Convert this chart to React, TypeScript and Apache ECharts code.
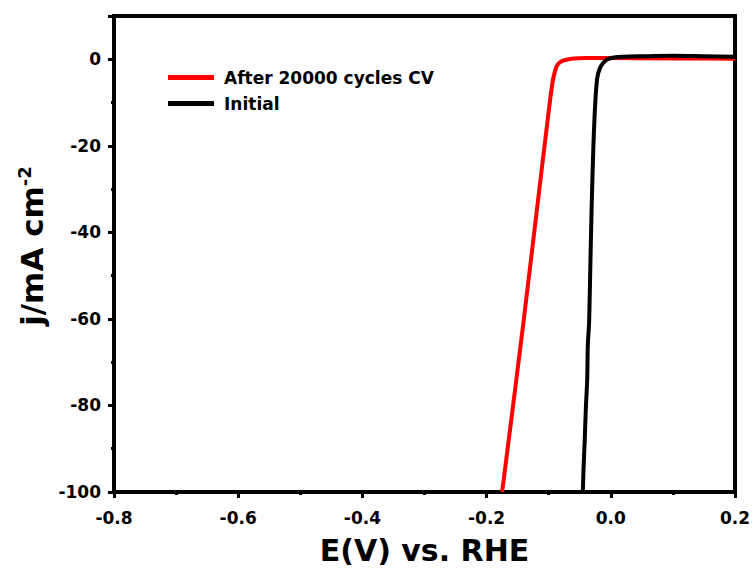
import React, { useEffect, useRef } from "react";
import * as echarts from "echarts";

const initialE = [0.2, 0.15, 0.1, 0.05, 0.02, 0.005, -0.005, -0.012, -0.018, -0.022, -0.025, -0.028, -0.031, -0.034, -0.035, -0.037, -0.038, -0.040, -0.042, -0.044, -0.045];
const initialJ = [0.6, 0.7, 0.8, 0.7, 0.6, 0.4, 0.0, -0.8, -2.2, -4.5, -10, -20, -35, -55, -61, -66, -74, -80, -88, -95, -100];

const afterE = [0.2, 0.1, 0.0, -0.04, -0.06, -0.072, -0.08, -0.086, -0.09, -0.094, -0.1, -0.12, -0.14, -0.16, -0.175];
const afterJ = [0.1, 0.2, 0.3, 0.3, 0.2, -0.1, -0.5, -1.3, -2.8, -5.5, -12, -36, -60, -83, -100];

const xTicks = [-0.8, 0.2, 0.2];
const yTicks = [-100, 10, 20];

const labels = {
  after: "After 20000 cycles CV",
  initial: "Initial",
};

export default function App() {
  const ref = useRef<HTMLDivElement>(null);
  useEffect(() => {
    const chart = echarts.init(ref.current!, null, { renderer: "svg" });
    const font = "'DejaVu Sans', sans-serif";
    const mk = (xs: number[], ys: number[]) => xs.map((x, i) => [x, ys[i]]);
    chart.setOption({
      animation: false,
      backgroundColor: "#ffffff",
      textStyle: { fontFamily: font },
      grid: {
        left: 114,
        right: 21,
        top: 16,
        bottom: 84,
        show: true,
        borderColor: "#000",
        borderWidth: 4,
        backgroundColor: "transparent",
      },
      legend: {
        left: 163,
        top: 64,
        orient: "vertical",
        itemWidth: 46,
        itemHeight: 5,
        itemGap: 9,
        icon: "rect",
        textStyle: { fontSize: 17, fontWeight: "bold", color: "#000", fontFamily: font, padding: [0, 0, 0, 5] },
        data: [labels.after, labels.initial],
      },
      xAxis: {
        type: "value",
        min: xTicks[0],
        max: xTicks[1],
        interval: xTicks[2],
        name: "E(V) vs. RHE",
        nameLocation: "middle",
        nameGap: 43,
        nameTextStyle: { fontSize: 30, fontWeight: "bold", color: "#000", fontFamily: font },
        axisLine: { show: true, onZero: false, lineStyle: { color: "#000", width: 4 } },
        axisTick: { show: true, inside: false, length: 6, lineStyle: { color: "#000", width: 3 } },
        minorTick: { show: true, splitNumber: 2, length: 3, lineStyle: { color: "#000", width: 3 } },
        axisLabel: {
          fontSize: 17,
          fontWeight: "bold",
          color: "#000",
          margin: 17,
          fontFamily: font,
          formatter: (v: number) => v.toFixed(1),
        },
        splitLine: { show: false },
      },
      yAxis: {
        type: "value",
        min: yTicks[0],
        max: yTicks[1],
        interval: yTicks[2],
        name: "{b|j/mA cm}{s|-2}",
        nameLocation: "middle",
        nameGap: 64,
        nameTextStyle: {
          fontSize: 31,
          fontWeight: "bold",
          color: "#000",
          fontFamily: font,
          padding: [0, 0, 0, 16],
          rich: {
            b: { fontSize: 31, fontWeight: "bold", color: "#000", fontFamily: font },
            s: { fontSize: 18, fontWeight: "bold", color: "#000", fontFamily: font, padding: [0, 0, 16, 0] },
          },
        },
        axisLine: { show: true, onZero: false, lineStyle: { color: "#000", width: 4 } },
        axisTick: { show: true, inside: false, length: 6, lineStyle: { color: "#000", width: 3 } },
        minorTick: { show: true, splitNumber: 2, length: 3, lineStyle: { color: "#000", width: 3 } },
        axisLabel: {
          fontSize: 17,
          fontWeight: "bold",
          color: "#000",
          margin: 13,
          fontFamily: font,
          showMaxLabel: false,
        },
        splitLine: { show: false },
      },
      series: [
        {
          name: labels.after,
          type: "line",
          data: mk(afterE, afterJ),
          showSymbol: false,
          symbol: "none",
          smooth: 0.3,
          lineStyle: { color: "#ff0000", width: 4 },
          itemStyle: { color: "#ff0000" },
          z: 2,
        },
        {
          name: labels.initial,
          type: "line",
          data: mk(initialE, initialJ),
          showSymbol: false,
          symbol: "none",
          smooth: 0.3,
          lineStyle: { color: "#000000", width: 4 },
          itemStyle: { color: "#000000" },
          z: 3,
        },
      ],
    });
    return () => chart.dispose();
  }, []);
  return <div ref={ref} style={{ width: 756, height: 576, position: "absolute", left: 0, top: 0 }} />;
}
